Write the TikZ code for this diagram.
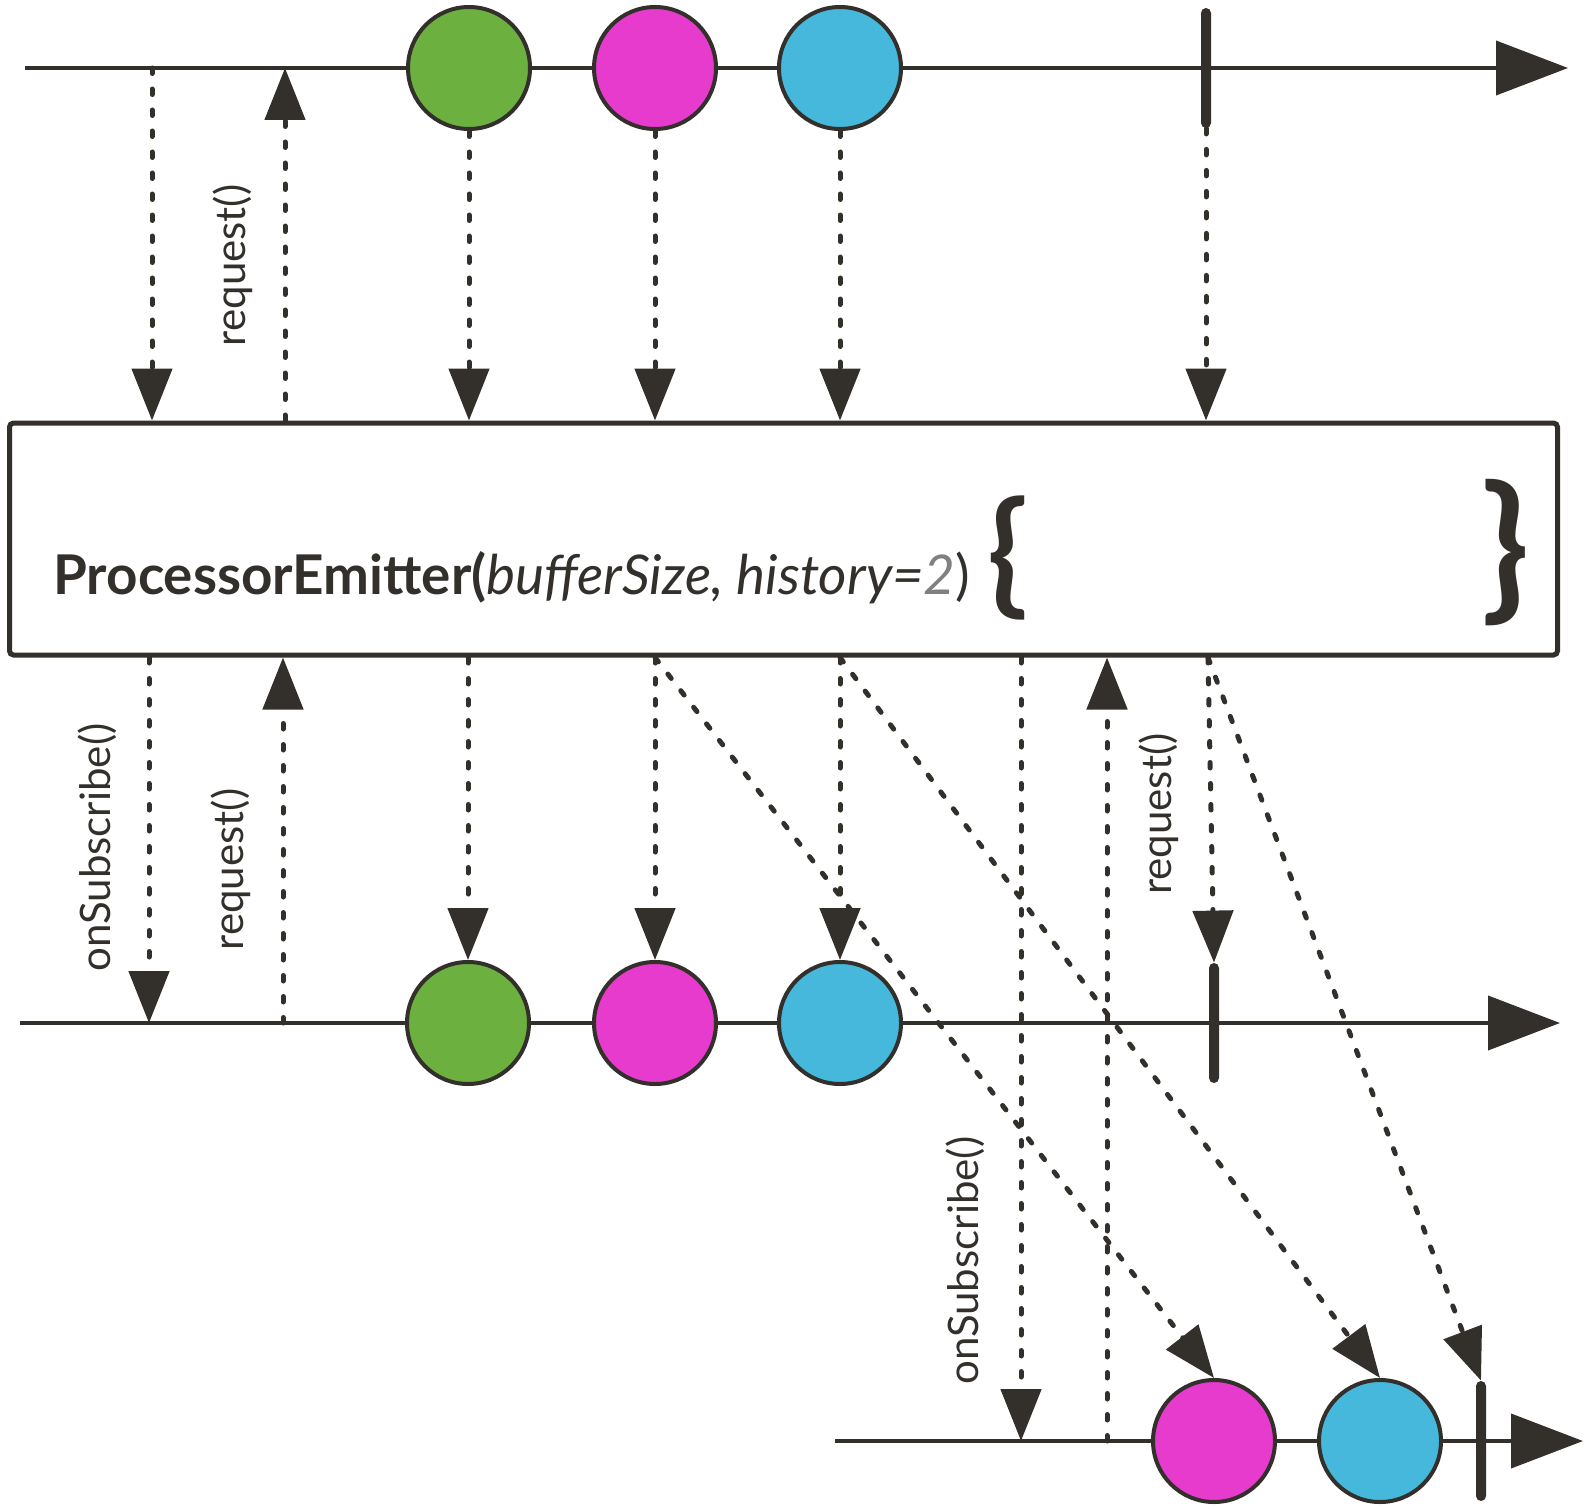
\documentclass[tikz,border=0pt]{standalone}
\usepackage{fontspec}
\setmainfont{Lato}
\usepackage{tikz}
\usetikzlibrary{arrows.meta}
\definecolor{ink}{HTML}{33302C}
\definecolor{leaf}{HTML}{6CB040}
\definecolor{berry}{HTML}{E63BCC}
\definecolor{sky}{HTML}{45B8DC}
\definecolor{dim}{HTML}{808080}
\tikzset{>={Triangle[length=26pt,width=20pt]}}
\tikzset{axis/.style={line width=2pt, draw=ink, -{Triangle[length=36pt,width=27pt]}},
  msg/.style={line width=2.5pt, draw=ink, line cap=round, dash pattern=on 2.75pt off 7.75pt, ->},
  marble/.style={circle, draw=ink, line width=2pt, minimum size=61pt, inner sep=0pt},
  endbar/.style={rectangle, fill=ink, minimum width=5pt, minimum height=60pt, inner sep=0pt, rounded corners=2.5pt},
  call/.style={rotate=90, inner sep=0pt, outer sep=16pt, font=\fontsize{21}{25}\selectfont, text=ink}}

\begin{document}
\begin{tikzpicture}[x=0.5pt, y=-0.5pt]
    \useasboundingbox (0,0) rectangle (1591,1509);
    % source
    \coordinate(t0)at(25, 68);
    \coordinate(t1)at(1568, 68);
    \coordinate(s1)at(152, 68);
    \coordinate(s2)at(285, 68);
    \draw[axis](t0)--(t1);
    \node[marble, fill=leaf](a1)at(469, 68){};
    \node[marble, fill=berry](a2)at(655, 68){};
    \node[marble, fill=sky](a3)at(840, 68){};
    \node[endbar](a4)at(1206, 68){};
    % operator
    \node[draw=ink, line width=2.5pt, rounded corners=2pt, minimum width=774pt, minimum height=116pt, inner sep=0pt](op)at(783.5, 539){};
    \node[anchor=base west, inner sep=0pt, text=ink, font=\fontsize{27.4}{31}\selectfont](title)at(53, 594)
        {\textbf{ProcessorEmitter(}\textit{bufferSize, history=\textcolor{dim}{2}})};
    \node[text=ink, font=\fontsize{67}{70}\selectfont\bfseries](lb)at(1008, 558){\{};
    \node[text=ink, font=\fontsize{79}{82}\selectfont\bfseries](rb)at(1506, 553){\}};
    \draw[msg](s1)--(s1 |- op.north);
    \draw[msg](s2 |- op.north)--(s2)node[call, pos=.44, anchor=south]{request()};
    \draw[msg](a1)--(a1 |- op.north);
    \draw[msg](a2)--(a2 |- op.north);
    \draw[msg](a3)--(a3 |- op.north);
    \draw[msg](a4.south)--(a4 |- op.north);
    % first subscriber
    \coordinate(m0)at(20, 1023);
    \coordinate(m1)at(1560, 1023);
    \coordinate(u1)at(149, 1023);
    \coordinate(u2)at(283, 1023);
    \draw[axis](m0)--(m1);
    \node[marble, fill=leaf](b1)at(468, 1023){};
    \node[marble, fill=berry](b2)at(655, 1023){};
    \node[marble, fill=sky](b3)at(840, 1023){};
    \node[endbar](b4)at(1214, 1023){};
    \draw[msg](u1 |- op.south)--(u1)node[call, pos=.52, anchor=south]{onSubscribe()};
    \draw[msg](u2)--(u2 |- op.south)node[call, pos=.42, anchor=south]{request()};
    \draw[msg](b1 |- op.south)--(b1);
    \draw[msg](b2 |- op.south)--(b2);
    \draw[msg](b3 |- op.south)--(b3);
    \draw[msg](1208, 0 |- op.south)--(b4.north);
    % late subscriber
    \coordinate(l0)at(835, 1441);
    \coordinate(l1)at(1583, 1441);
    \coordinate(v1)at(1021, 1441);
    \coordinate(v2)at(1107, 1441);
    \draw[axis](l0)--(l1);
    \node[marble, fill=berry](c2)at(1214, 1441){};
    \node[marble, fill=sky](c3)at(1380, 1441){};
    \node[endbar](c4)at(1481, 1441){};
    \draw[msg](v1 |- op.south)--(v1)node[call, pos=.77, anchor=south, outer sep=18pt]{onSubscribe()};
    \draw[msg](v2)--(v2 |- op.south)node[call, pos=.8, anchor=north]{request()};
    \draw[msg](b2 |- op.south)--(c2.north);
    \draw[msg](b3 |- op.south)--(c3.north);
    \draw[msg](1208, 0 |- op.south)--(c4.north);
\end{tikzpicture}
\end{document}
